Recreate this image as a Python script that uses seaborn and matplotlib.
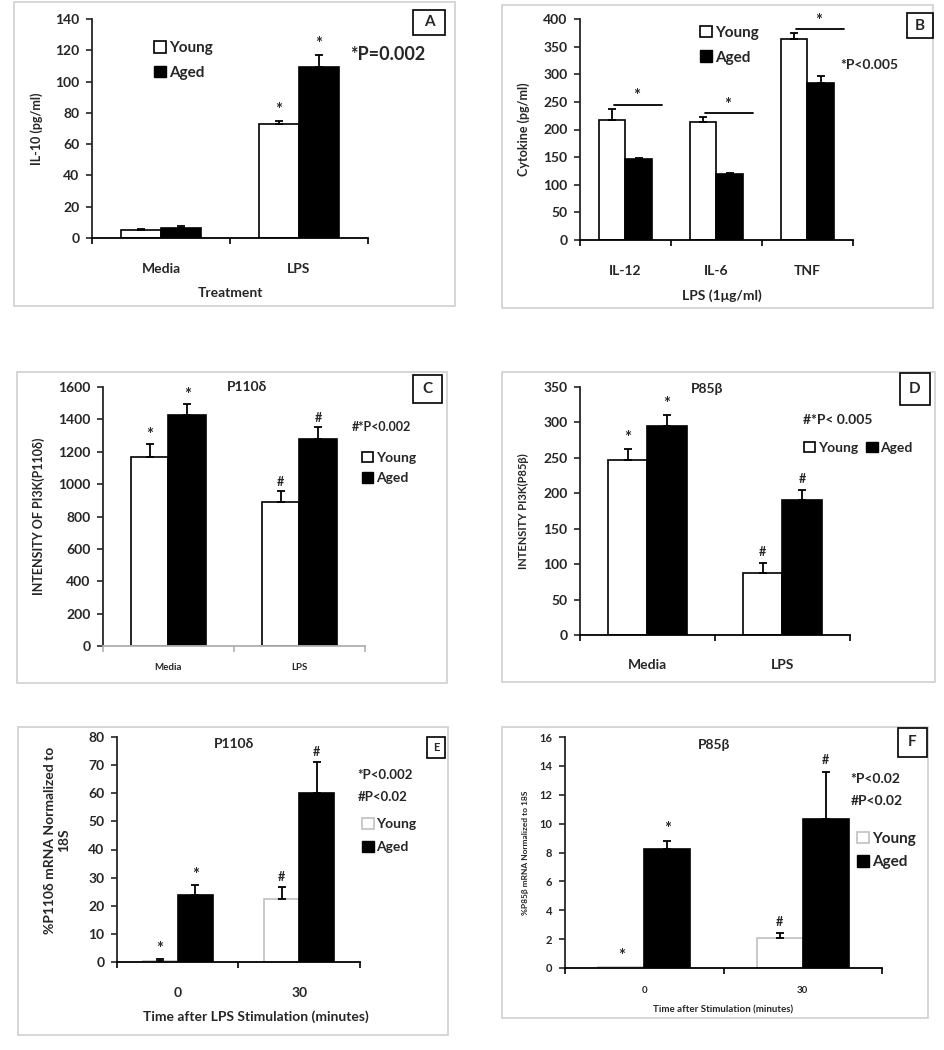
import numpy as np
import pandas as pd
import matplotlib
matplotlib.use('Agg')
import matplotlib.pyplot as plt
from matplotlib.patches import Patch, Rectangle
import seaborn as sns

# Panel A - IL-10
a_cats = ['Media', 'LPS']
a_young = [5, 73]
a_aged = [6.5, 109]
a_young_err = [1, 2]
a_aged_err = [1, 8]
a_young_marks = ['', '*']
a_aged_marks = ['', '*']

# Panel B - cytokines
b_cats = ['IL-12', 'IL-6', 'TNF']
b_young = [218, 213, 363]
b_aged = [146, 120, 284]
b_young_err = [20, 10, 12]
b_aged_err = [3, 2, 12]

# Panel C - P110d intensity
c_cats = ['Media', 'LPS']
c_young = [1165, 890]
c_aged = [1425, 1280]
c_young_err = [80, 70]
c_aged_err = [70, 70]
c_young_marks = ['*', '#']
c_aged_marks = ['*', '#']

# Panel D - P85b intensity
d_cats = ['Media', 'LPS']
d_young = [247, 87]
d_aged = [295, 190]
d_young_err = [15, 15]
d_aged_err = [15, 15]
d_young_marks = ['*', '#']
d_aged_marks = ['*', '#']

# Panel E - P110d mRNA
e_cats = ['0', '30']
e_young = [0.5, 22.5]
e_aged = [24, 60]
e_young_err = [0.5, 4]
e_aged_err = [3.5, 11]
e_young_marks = ['*', '#']
e_aged_marks = ['*', '#']

# Panel F - P85b mRNA
f_cats = ['0', '30']
f_young = [0.05, 2.1]
f_aged = [8.25, 10.3]
f_young_err = [0, 0.3]
f_aged_err = [0.55, 3.3]
f_young_marks = ['*', '#']
f_aged_marks = ['*', '#']

sns.set_style('ticks')
plt.rcParams['font.family'] = ['Lato', 'DejaVu Sans']
plt.rcParams['font.weight'] = 'bold'
plt.rcParams['axes.labelweight'] = 'bold'

W, H = 945, 1050
fig = plt.figure(figsize=(W / 100, H / 100), dpi=100)


def px_rect(x0, y0, x1, y1):
    return [x0 / W, 1 - y1 / H, (x1 - x0) / W, (y1 - y0) / H]


def panel_box(x0, y0, x1, y1):
    fig.patches.append(Rectangle((x0 / W, 1 - y1 / H), (x1 - x0) / W, (y1 - y0) / H,
                                 transform=fig.transFigure, fill=False,
                                 edgecolor='#d0d0d0', linewidth=1.2))


def letter_box(x0, y0, x1, y1, letter, size=11):
    fig.patches.append(Rectangle((x0 / W, 1 - y1 / H), (x1 - x0) / W, (y1 - y0) / H,
                                 transform=fig.transFigure, fill=False,
                                 edgecolor='black', linewidth=1.2))
    fig.text((x0 + x1) / 2 / W, 1 - (y0 + y1) / 2 / H, letter, ha='center', va='center',
             fontsize=size, fontweight='bold')


def draw_panel(ax, cats, young, aged, young_err, aged_err, young_marks, aged_marks,
               ymax, ystep, ytick_size=10, xtick_size=10, xpad=15, mark_gap=0.05,
               young_edge='black', xaxis_color='black'):
    df = pd.DataFrame({'cat': cats * 2, 'value': young + aged,
                       'group': ['Young'] * len(cats) + ['Aged'] * len(cats)})
    sns.barplot(data=df, x='cat', y='value', hue='group', hue_order=['Young', 'Aged'],
                palette=['white', 'black'], edgecolor='black', linewidth=1.2,
                width=0.58, errorbar=None, legend=False, ax=ax)
    for cont, errs, marks, edge in zip(ax.containers, [young_err, aged_err],
                                       [young_marks, aged_marks], [young_edge, 'black']):
        for bar, e, m in zip(cont, errs, marks):
            x = bar.get_x() + bar.get_width() / 2
            h = bar.get_height()
            bar.set_edgecolor(edge)
            if e > 0:
                ax.errorbar(x, h, yerr=[[0], [e]], fmt='none', ecolor='black',
                            elinewidth=1.3, capsize=3, capthick=1.3)
            if m:
                size = 12 if m == '*' else 9
                ax.text(x, h + e + mark_gap * ymax, m, ha='center', va='center',
                        fontsize=size)
    ax.set_xlim(-0.5, len(cats) - 0.5)
    ax.set_ylim(0, ymax)
    ax.set_yticks(np.arange(0, ymax + ystep / 2, ystep))
    ax.set_xticks(np.arange(len(cats) + 1) - 0.5, minor=True)
    ax.tick_params(axis='x', which='major', length=0, pad=xpad, labelsize=xtick_size)
    ax.tick_params(axis='x', which='minor', length=4, width=1.2, color=xaxis_color)
    ax.tick_params(axis='y', length=4, width=1.2, labelsize=ytick_size, pad=5)
    sns.despine(ax=ax)
    ax.spines['left'].set_linewidth(1.3)
    ax.spines['bottom'].set_linewidth(1.3)
    ax.spines['bottom'].set_color(xaxis_color)
    ax.set_xlabel('')
    ax.set_ylabel('')


def add_legend(ax, x, y, ncol=1, fontsize=10, young_edge='black', spacing=0.6):
    handles = [Patch(facecolor='white', edgecolor=young_edge, linewidth=1.2, label='Young'),
               Patch(facecolor='black', edgecolor='black', label='Aged')]
    ax.legend(handles=handles, loc='upper left', bbox_to_anchor=(x, y), ncol=ncol,
              frameon=False, fontsize=fontsize, handlelength=0.8, handleheight=0.8,
              handletextpad=0.2, borderpad=0, borderaxespad=0, labelspacing=spacing,
              columnspacing=0.6)


def set_labels(ax, xlabel, xpos, ylabel, ypos, xsize=10, ysize=9):
    if xlabel:
        ax.set_xlabel(xlabel, fontsize=xsize)
        ax.xaxis.set_label_coords(*xpos)
        ax.xaxis.label.set_va('center')
    ax.set_ylabel(ylabel, fontsize=ysize)
    ax.yaxis.set_label_coords(*ypos)
    ax.yaxis.label.set_va('center')


# ---- panel frames ----
panel_box(14, 2, 455, 306)
panel_box(502, 5, 933, 308)
panel_box(17, 372, 447, 683)
panel_box(502, 372, 935, 682)
panel_box(18, 727, 448, 1035)
panel_box(502, 727, 928, 1018)

# ---- A ----
axA = fig.add_axes(px_rect(92, 19, 368, 238))
draw_panel(axA, a_cats, a_young, a_aged, a_young_err, a_aged_err, a_young_marks,
           a_aged_marks, 140, 20, xpad=18, mark_gap=0.05)
set_labels(axA, 'Treatment', (0.5, -0.25), 'IL-10 (pg/ml)', (-0.2, 0.5))
add_legend(axA, 0.225, 0.9, fontsize=11, spacing=0.7)
axA.text(1.37, 117, '*P=0.002', fontsize=13, ha='left', va='center')
letter_box(413, 10, 445, 35, 'A')

# ---- B ----
axB = fig.add_axes(px_rect(580, 19, 853, 240))
draw_panel(axB, b_cats, b_young, b_aged, b_young_err, b_aged_err, ['', '', ''],
           ['', '', ''], 400, 50, xpad=18)
set_labels(axB, 'LPS (1μg/ml)', (0.52, -0.25), 'Cytokine (pg/ml)', (-0.205, 0.5))
add_legend(axB, 0.44, 0.97, fontsize=11, spacing=0.7)
axB.text(2.36, 317, '*P<0.005', fontsize=10, ha='left', va='center')
for i in range(len(b_cats)):
    top = b_young[i] + b_young_err[i]
    axB.plot([i - 0.13, i + 0.40], [top + 6, top + 6], color='black', lw=1.3)
    axB.text(i + 0.12, top + 22, '*', ha='center', va='center', fontsize=12)
letter_box(907, 13, 933, 38, 'B')

# ---- C ----
axC = fig.add_axes(px_rect(103, 387, 365, 646))
draw_panel(axC, c_cats, c_young, c_aged, c_young_err, c_aged_err, c_young_marks,
           c_aged_marks, 1600, 200, xtick_size=7, xpad=12, mark_gap=0.035,
           xaxis_color='#b0b0b0')
set_labels(axC, None, None, 'INTENSITY OF PI3K(P110δ)', (-0.245, 0.5), ysize=9)
axC.text(0.55, 1.0, 'P110δ', transform=axC.transAxes, ha='center', va='center',
         fontsize=10)
axC.text(1.40, 1353, '#*P<0.002', fontsize=9, ha='left', va='center')
add_legend(axC, 0.99, 0.75, fontsize=10, spacing=0.6)
letter_box(413, 375, 442, 403, 'C')

# ---- D ----
axD = fig.add_axes(px_rect(580, 387, 850, 635))
draw_panel(axD, d_cats, d_young, d_aged, d_young_err, d_aged_err, d_young_marks,
           d_aged_marks, 350, 50, xpad=17, mark_gap=0.045)
set_labels(axD, None, None, 'INTENSITY PI3K(P85β)', (-0.21, 0.5), ysize=8)
axD.text(0.47, 0.99, 'P85β', transform=axD.transAxes, ha='center', va='center',
         fontsize=10)
axD.text(1.15, 303, '#*P< 0.005', fontsize=10, ha='left', va='center')
add_legend(axD, 0.83, 0.78, ncol=2, fontsize=10)
letter_box(900, 373, 930, 405, 'D')

# ---- E ----
axE = fig.add_axes(px_rect(117, 737, 360, 962))
draw_panel(axE, e_cats, e_young, e_aged, e_young_err, e_aged_err, e_young_marks,
           e_aged_marks, 80, 10, xpad=18, mark_gap=0.045, young_edge='#c0c0c0')
set_labels(axE, 'Time after LPS Stimulation (minutes)', (0.57, -0.245),
           '%P110δ mRNA Normalized to\n18S', (-0.245, 0.54), ysize=10)
axE.text(0.48, 0.97, 'P110δ', transform=axE.transAxes, ha='center', va='center',
         fontsize=10)
axE.text(1.48, 66.5, '*P<0.002', fontsize=9.5, ha='left', va='center')
axE.text(1.48, 58.7, '#P<0.02', fontsize=9.5, ha='left', va='center')
add_legend(axE, 1.01, 0.64, fontsize=10, young_edge='#c0c0c0', spacing=0.8)
letter_box(427, 737, 445, 758, 'E', size=8)

# ---- F ----
axF = fig.add_axes(px_rect(565, 737, 882, 968))
draw_panel(axF, f_cats, f_young, f_aged, f_young_err, f_aged_err, f_young_marks,
           f_aged_marks, 16, 2, ytick_size=8, xtick_size=7, xpad=13, mark_gap=0.05,
           young_edge='#c0c0c0')
set_labels(axF, 'Time after Stimulation (minutes)', (0.5, -0.18),
           '%P85β mRNA Normalized to 18S', (-0.125, 0.5), xsize=7, ysize=6)
axF.text(0.47, 0.965, 'P85β', transform=axF.transAxes, ha='center', va='center',
         fontsize=10)
axF.text(1.30, 13.1, '*P<0.02', fontsize=10, ha='left', va='center')
axF.text(1.30, 11.6, '#P<0.02', fontsize=10, ha='left', va='center')
add_legend(axF, 0.92, 0.59, fontsize=11, young_edge='#c0c0c0', spacing=0.6)
letter_box(898, 728, 927, 757, 'F')

fig.savefig('out.png', dpi=100, facecolor='white')
